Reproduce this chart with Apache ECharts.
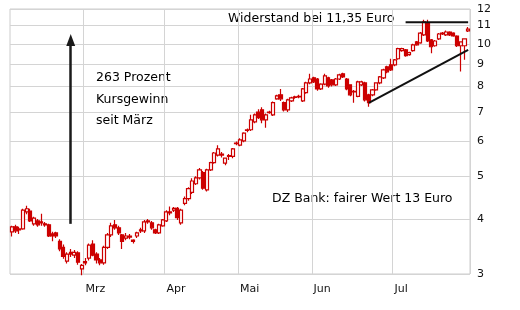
<!DOCTYPE html>
<html><head><meta charset="utf-8">
<script src="https://cdn.jsdelivr.net/npm/echarts@6/dist/echarts.min.js"></script>
<style>html,body{margin:0;padding:0;background:#fff}#c{width:520px;height:310px}</style>
</head><body><div id="c"></div>
<script>
// Trading-day calendar (Xetra 2020, Feb 3 - Jul 29)
const startDate = '2020-02-03';
const endDate = '2020-07-29';
const holidays = ['2020-04-10', '2020-04-13', '2020-05-01'];
const monthNames = ['Jan','Feb','Mrz','Apr','Mai','Jun','Jul','Aug','Sep','Okt','Nov','Dez'];
const yTicks = [3, 4, 5, 6, 7, 8, 9, 10, 11, 12];

// OHLC values
const opens = [3.74,3.84,3.78,3.80,4.15,4.17,3.90,3.96,3.92,3.90,3.88,3.70,3.72,3.56,3.45,3.21,3.36,3.31,3.35,3.08,
3.18,3.26,3.51,3.33,3.23,3.18,3.45,3.68,3.88,3.82,3.68,3.62,3.64,3.58,3.66,3.76,3.76,3.94,3.92,3.78,3.72,3.86,
3.96,4.13,4.19,4.23,3.92,4.34,4.45,4.60,4.81,4.96,5.10,4.66,5.17,5.37,5.59,5.62,5.36,5.55,5.55,5.93,
5.89,6.02,6.36,6.38,6.65,7.00,7.08,6.72,6.98,6.90,7.50,7.66,7.35,7.08,7.42,7.56,7.60,7.42,7.75,8.15,
8.37,8.32,7.90,8.10,8.37,8.28,8.07,8.32,8.55,8.32,8.07,7.78,7.60,8.07,8.15,7.66,7.66,7.86,8.15,8.37,8.87,8.96,
8.96,9.25,9.65,9.69,9.45,9.65,10.10,10.05,10.48,11.17,10.21,9.90,10.26,10.58,10.48,10.64,10.58,10.42,9.90,9.90,10.70];
const closes = [3.84,3.76,3.80,4.19,4.22,3.96,4.02,3.88,3.94,3.88,3.66,3.66,3.66,3.42,3.29,3.33,3.33,3.36,3.19,3.14,
3.20,3.49,3.31,3.23,3.18,3.45,3.68,3.86,3.82,3.72,3.56,3.66,3.66,3.56,3.72,3.78,3.94,3.96,3.82,3.72,3.88,3.98,
4.15,4.15,4.23,4.03,4.19,4.45,4.69,4.88,4.96,5.17,4.70,5.17,5.37,5.65,5.77,5.59,5.50,5.57,5.77,5.95,
6.05,6.27,6.38,6.72,6.90,6.80,6.72,6.90,7.00,7.35,7.62,7.50,7.08,7.46,7.54,7.58,7.58,7.90,8.15,8.32,
8.20,7.90,8.10,8.46,8.03,8.07,8.32,8.50,8.41,7.90,7.66,7.80,8.20,8.20,7.46,7.35,7.86,8.15,8.41,8.73,8.64,8.73,
9.20,9.75,9.75,9.40,9.55,9.95,9.95,10.58,11.22,10.15,9.85,10.15,10.53,10.53,10.64,10.48,10.42,9.90,10.10,10.26,10.80];
const lows = [3.65,3.72,3.70,3.78,4.10,3.94,3.86,3.84,3.86,3.84,3.64,3.56,3.62,3.38,3.25,3.17,3.28,3.26,3.15,2.98,
3.14,3.22,3.29,3.17,3.14,3.15,3.42,3.64,3.78,3.68,3.42,3.58,3.60,3.52,3.62,3.72,3.72,3.90,3.78,3.70,3.70,3.84,
3.94,4.08,4.15,3.98,3.88,4.30,4.40,4.56,4.78,4.92,4.66,4.62,5.14,5.34,5.55,5.52,5.30,5.45,5.50,5.88,
5.85,5.98,6.30,6.34,6.60,6.75,6.60,6.45,6.94,6.86,7.46,7.42,7.02,7.00,7.38,7.50,7.52,7.38,7.70,8.10,
8.15,7.82,7.86,8.05,7.95,8.00,8.02,8.28,8.36,7.84,7.60,7.35,7.56,8.02,7.40,7.20,7.60,7.82,8.10,8.32,8.58,8.68,
8.90,9.20,9.60,9.35,9.40,9.60,9.90,10.00,10.42,10.10,9.52,9.85,10.20,10.48,10.42,10.42,10.38,9.84,8.65,9.20,10.64];
const highs = [3.86,3.88,3.84,4.22,4.29,4.22,4.05,4.00,4.11,3.94,3.90,3.74,3.74,3.60,3.50,3.36,3.42,3.40,3.38,3.16,
3.26,3.52,3.58,3.36,3.26,3.48,3.72,3.92,3.98,3.86,3.70,3.72,3.70,3.60,3.74,3.82,3.98,4.00,3.96,3.80,3.90,4.00,
4.19,4.27,4.26,4.26,4.22,4.50,4.72,4.95,5.00,5.22,5.14,5.20,5.40,5.68,5.88,5.68,5.52,5.62,5.80,6.00,
6.10,6.30,6.42,6.90,6.95,7.10,7.18,6.95,7.05,7.40,7.66,7.90,7.40,7.50,7.58,7.62,7.66,7.94,8.20,8.55,
8.42,8.36,8.14,8.55,8.42,8.32,8.36,8.55,8.60,8.36,8.10,7.86,8.25,8.24,8.20,7.70,7.90,8.18,8.45,8.78,8.92,9.25,
9.24,9.80,9.80,9.74,9.60,10.00,10.15,10.64,11.34,11.34,10.26,10.20,10.58,10.64,10.72,10.68,10.62,10.46,10.14,10.30,10.92];

// Annotation lines (category index, price)
const resistanceLine = [[107, 11.2], [124, 11.2]];
const trendLine = [[97, 7.34], [124, 9.69]];
const arrowFrom = [15.7, 3.9];
const arrowTo = [15.7, 10.2];

// build category list of trading days
const categories = [];
(function(){
  let d = new Date(startDate + 'T12:00:00Z');
  const end = new Date(endDate + 'T12:00:00Z');
  while (d <= end) {
    const s = d.toISOString().slice(0,10);
    const wd = d.getUTCDay();
    if (wd !== 0 && wd !== 6 && holidays.indexOf(s) < 0) categories.push(s);
    d = new Date(d.getTime() + 86400000);
  }
})();
const isMonthStart = (i) => i > 0 && categories[i].slice(5,7) !== categories[i-1].slice(5,7);

const ohlc = opens.map((o, i) => [o, closes[i], lows[i], highs[i]]);

const chart = echarts.init(document.getElementById('c'), null, {renderer: 'canvas'});
const FONT = 'DejaVu Sans';
const RED = '#cc0000';
const TXT = '12.5px ' + FONT;
chart.setOption({
  animation: false,
  backgroundColor: '#fff',
  grid: {left: 10, right: 50, top: 9, bottom: 36, show: true, borderColor: '#cccccc', borderWidth: 1},
  xAxis: {
    type: 'category', data: categories, boundaryGap: true,
    axisLine: {show: false}, axisTick: {show: false},
    axisLabel: {interval: (i) => isMonthStart(i), formatter: (v) => monthNames[parseInt(v.slice(5,7),10)-1],
      align: 'left', fontFamily: FONT, fontSize: 11, color: '#111', margin: 10},
    splitLine: {show: true, interval: (i) => isMonthStart(i), lineStyle: {color: '#d4d4d4', width: 1}}
  },
  yAxis: {
    type: 'log', logBase: 10, position: 'right', min: 3, max: 12,
    axisLine: {show: false},
    axisTick: {show: false, customValues: yTicks},
    axisLabel: {customValues: yTicks, fontFamily: FONT, fontSize: 11, color: '#111', margin: 7},
    splitLine: {show: true, lineStyle: {color: '#d4d4d4', width: 1}},
    minorTick: {show: false}, minorSplitLine: {show: false}
  },
  series: [
    {
      type: 'candlestick', data: ohlc, barWidth: 3.6,
      itemStyle: {color: '#ffffff', color0: RED, borderColor: RED, borderColor0: RED, borderWidth: 1.2},
      markLine: {
        silent: true, symbol: ['none', 'triangle'], symbolSize: [9, 12],
        lineStyle: {color: '#1a1a1a', width: 2.5, type: 'solid'},
        label: {show: false},
        data: [[{coord: arrowFrom}, {coord: arrowTo}]]
      }
    },
    {type: 'line', data: resistanceLine, symbol: 'none', lineStyle: {color: '#111', width: 2}, silent: true},
    {type: 'line', data: trendLine, symbol: 'none', lineStyle: {color: '#111', width: 2}, silent: true}
  ],
  graphic: [
    {type: 'text', x: 228, y: 19, style: {text: 'Widerstand bei 11,35 Euro', font: TXT, fill: '#000', verticalAlign: 'middle'}},
    {type: 'text', x: 96, y: 78, style: {text: '263 Prozent', font: TXT, fill: '#000', verticalAlign: 'middle'}},
    {type: 'text', x: 96, y: 100, style: {text: 'Kursgewinn', font: TXT, fill: '#000', verticalAlign: 'middle'}},
    {type: 'text', x: 96, y: 121, style: {text: 'seit März', font: TXT, fill: '#000', verticalAlign: 'middle'}},
    {type: 'text', x: 272, y: 199, style: {text: 'DZ Bank: fairer Wert 13 Euro', font: TXT, fill: '#000', verticalAlign: 'middle'}}
  ]
});
</script></body></html>
